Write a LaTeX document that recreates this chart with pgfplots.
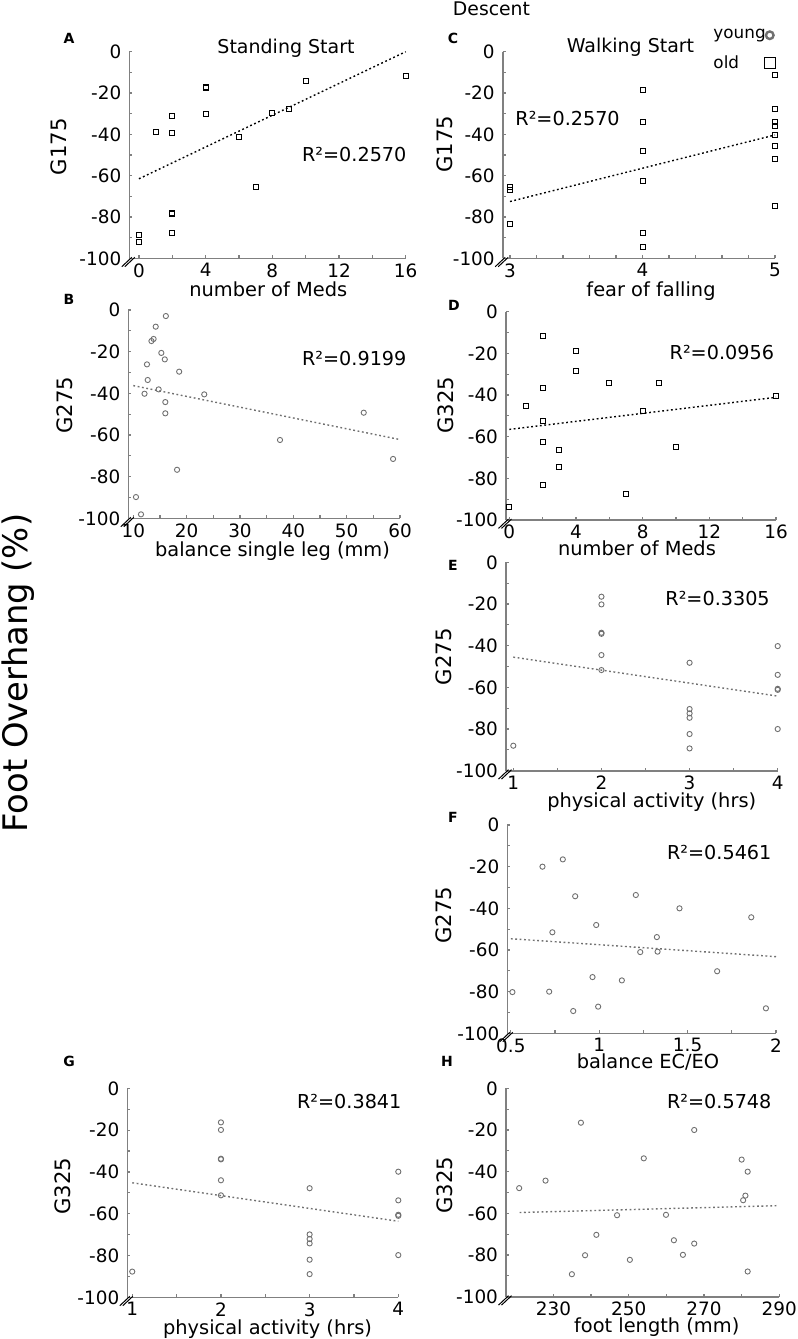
\documentclass[border=0pt]{standalone}
\usepackage{fontspec}
\setmainfont{DejaVu Sans}
\usepackage{pgfplots}
\pgfplotsset{compat=1.18}
\definecolor{mk}{HTML}{707070}
\definecolor{ax}{HTML}{808080}
\pgfplotsset{
  panel/.style={
    scale only axis, axis lines*=left, anchor=south west,
    axis line style={ax, line width=0.8pt},
    every tick/.style={ax, line width=0.6pt},
    tick align=inside, major tick length=1.5pt, minor tick length=1.5pt,
    ymin=-100, ymax=0, ytick={-100,-80,...,0}, minor y tick num=1,
    tick label style={font=\fontsize{9.2}{10}\selectfont, black},
    yticklabel style={xshift=-0.5pt},
    xticklabel style={yshift=1pt},
    /pgf/number format/assume math mode=true,
    clip=false, enlargelimits=false,
  },
  sq/.style={only marks, mark=square, mark size=1.25pt, mark options={line width=0.45pt, draw=black}},
  ci/.style={only marks, mark=o, mark size=1.3pt, mark options={line width=0.45pt, draw=mk}},
  fitk/.style={no markers, black, line width=0.7pt, dash pattern=on 0.9pt off 1.3pt},
  fitg/.style={no markers, mk, line width=0.7pt, dash pattern=on 0.9pt off 1.3pt},
}
\newcommand\brk{%
  \draw[black, line width=0.5pt] ([shift={(-3.75pt,-4.2pt)}]rel axis cs:0,0) -- ++(5pt,4.7pt);
  \draw[black, line width=0.5pt] ([shift={(-2.25pt,-4.2pt)}]rel axis cs:0,0) -- ++(5pt,4.7pt);}
\newcommand\fs[1]{\fontsize{#1}{#1}\selectfont}
\begin{document}
\begin{tikzpicture}
\useasboundingbox (0,0) rectangle (399pt,-669.5pt);

% ---------- A ----------
\begin{axis}[panel, at={(64.65pt,-129.15pt)}, width=138.2pt, height=103.3pt,
  xmin=-0.58, xmax=16, xtick={0,4,...,16}, minor x tick num=1]
\addplot[sq] table {
0 -88.7
0 -91.9
1 -38.7
2 -31.1
2 -39.5
2 -77.9
2 -78.7
2 -87.9
4 -16.9
4 -17.4
4 -30.3
6 -41.1
7 -65.6
8 -29.5
9 -27.7
10 -14.0
16 -11.8
};
\addplot[fitk] coordinates {(0,-61.5) (16,0)};
\brk
\end{axis}

% ---------- B ----------
\begin{axis}[panel, at={(64.15pt,-259.15pt)}, width=135.85pt, height=104.15pt,
  xmin=9.06, xmax=60, xtick={10,20,...,60}, minor x tick num=1]
\addplot[ci] table {
10.5 -89.8
11.44 -98.1
12.1 -40.2
12.56 -26.1
12.7 -33.6
13.4 -14.9
13.8 -13.9
14.2 -8.0
14.75 -38.1
15.25 -20.6
15.9 -23.7
16.1 -2.9
16.0 -44.2
16.0 -49.6
18.6 -29.6
18.2 -76.7
23.3 -40.5
37.5 -62.4
53.2 -49.3
58.7 -71.5
};
\addplot[fitg] coordinates {(10,-36.3) (60,-62.2)};
\brk
\end{axis}

% ---------- C ----------
\begin{axis}[panel, at={(251.35pt,-129.15pt)}, width=136.15pt, height=103.3pt,
  xmin=2.945, xmax=5, xtick={3,4,5}, minor x tick num=4,
  legend plot pos=right,
  legend image code/.code={\draw[#1] plot coordinates {(0pt,0pt)};},
  legend style={draw=none, fill=none, at={(0.7726,1.131)}, anchor=north west,
    font=\fs{8.4}, inner sep=0pt, row sep=2.9pt, column sep=-0.7pt,
    nodes={inner xsep=0pt}, cells={anchor=west}}]
\addlegendimage{only marks, mark=o, mark size=1.9pt, mark options={line width=1.2pt, draw=mk}}
\addlegendentry{young}
\addlegendimage{only marks, mark=square, mark size=2.75pt, mark options={line width=0.5pt, draw=black}}
\addlegendentry{old}
\addplot[sq, forget plot] table {
3 -65.3
3 -66.9
3 -83.5
4 -18.5
4 -34.0
4 -47.9
4 -62.7
4 -87.9
4 -94.3
5 -11.1
5 -27.9
5 -33.9
5 -35.9
5 -40.3
5 -45.5
5 -52.1
5 -74.6
};
\addplot[fitk, forget plot] coordinates {(3,-72.5) (5,-40.3)};
\brk
\end{axis}

% ---------- D ----------
\begin{axis}[panel, at={(253pt,-260pt)}, width=135pt, height=104.15pt,
  xmin=-0.2, xmax=16, xtick={0,4,...,16}, minor x tick num=1]
\addplot[sq] table {
0 -93.9
1 -45.4
2 -11.5
2 -36.6
2 -52.3
2 -62.7
2 -83.4
3 -66.6
3 -74.6
4 -19.0
4 -28.3
6 -34.2
7 -87.7
8 -47.8
9 -34.2
10 -65.1
16 -40.5
};
\addplot[fitk] coordinates {(0,-56.5) (16,-41.1)};
\brk
\end{axis}

% ---------- E ----------
\begin{axis}[panel, at={(253pt,-385.35pt)}, width=135.85pt, height=104.2pt,
  xmin=0.917, xmax=4, xtick={1,2,3,4}, minor x tick num=1]
\addplot[ci] table {
1 -88.0
2 -16.5
2 -20.2
2 -33.8
2 -34.3
2 -44.5
2 -51.7
3 -48.2
3 -70.4
3 -72.5
3 -74.6
3 -82.4
3 -89.3
4 -40.2
4 -54.0
4 -60.7
4 -61.2
4 -80.0
};
\addplot[fitg] coordinates {(1,-45.5) (4,-64.2)};
\brk
\end{axis}

% ---------- F ----------
\begin{axis}[panel, at={(253.65pt,-516.65pt)}, width=134.35pt, height=104.15pt,
  xmin=0.48, xmax=2, xtick={0.5,1,1.5,2}, minor x tick num=1]
\addplot[ci] table {
0.509 -80.2
0.679 -20.0
0.735 -51.5
0.717 -80.0
0.794 -16.5
0.853 -89.3
0.864 -34.2
0.962 -73.0
0.983 -48.0
0.994 -87.2
1.128 -74.6
1.207 -33.6
1.232 -61.0
1.326 -53.8
1.330 -60.8
1.454 -40.0
1.667 -70.2
1.860 -44.3
1.943 -88.0
};
\addplot[fitg] coordinates {(0.5,-54.6) (2,-63.2)};
\brk
\end{axis}

% ---------- G ----------
\begin{axis}[panel, at={(63.65pt,-648.65pt)}, width=135.5pt, height=104.5pt,
  xmin=0.944, xmax=4, xtick={1,2,3,4}, minor x tick num=1]
\addplot[ci] table {
1 -87.7
2 -16.3
2 -19.9
2 -33.7
2 -34.0
2 -44.0
2 -51.2
3 -47.8
3 -69.9
3 -72.1
3 -74.2
3 -82.0
3 -88.9
4 -39.9
4 -53.6
4 -60.5
4 -61.0
4 -79.8
};
\addplot[fitg] coordinates {(1,-45.2) (4,-63.6)};
\brk
\end{axis}

% ---------- H ----------
\begin{axis}[panel, at={(253pt,-648.35pt)}, width=136.65pt, height=104.2pt,
  xmin=217.4, xmax=290, xtick={230,250,270,290}, minor x tick num=1]
\addplot[ci] table {
220.9 -47.9
227.9 -44.3
234.9 -89.2
237.3 -16.5
238.4 -80.1
241.4 -70.3
246.9 -60.9
250.3 -82.3
254.0 -33.6
259.9 -60.7
262.0 -72.9
264.4 -79.9
267.4 -20.0
267.4 -74.5
280.0 -34.2
280.4 -53.7
281.0 -51.5
281.6 -40.0
281.6 -87.9
};
\addplot[fitg] coordinates {(221,-59.6) (289.7,-56.3)};
\brk
\end{axis}

% ---------- texts ----------
\node[font=\fs{9.4}, inner sep=0] at (245.75pt,-4.5pt) {Descent};
\node[font=\fs{16.9}, rotate=90, inner sep=0] at (9pt,-336.5pt) {Foot Overhang (\%)};
\foreach \l/\x/\y in {A/34.5/-19, B/34.5/-149.5, C/226.5/-19, D/227/-152.5, E/226.5/-282.5, F/226.5/-408.5, G/34.5/-530.5, H/223.5/-530.5}
  \node[font=\fs{7}\bfseries, inner sep=0] at (\x pt,\y pt) {\l};
\node[font=\fs{9.5}, inner sep=0] at (143pt,-24.25pt) {Standing Start};
\node[font=\fs{9.5}, inner sep=0] at (315.25pt,-23.5pt) {Walking Start};
% R^2
\foreach \t/\x/\y in {0.2570/150.85/-77.15, 0.9199/150.85/-179.5, 0.2570/257.5/-59.5, 0.0956/334.65/-176.15, 0.3305/332.5/-299.15, 0.5461/333.35/-426.15, 0.3841/148.35/-550.85, 0.5748/333.35/-550.85}
  \node[font=\fs{9.6}, anchor=west, inner sep=0] at (\x pt,\y pt) {R²=\t};
% x labels
\foreach \t/\x/\y in {{number of Meds}/134.15/-148, {balance single leg (mm)}/136.25/-278.35, {fear of falling}/325.5/-148, {number of Meds}/318.5/-277.5, {physical activity (hrs)}/325.85/-403.5, {balance EC/EO}/324/-534, {physical activity (hrs)}/133.75/-667, {foot length (mm)}/328.35/-666.35}
  \node[font=\fs{9.7}, anchor=base, inner sep=0] at (\x pt,\y pt) {\t};
% y labels
\foreach \t/\x/\y in {G175/29.5/-73.35, G275/32.5/-202.5, G175/222.5/-72, G325/223/-202.5, G275/222/-328.35, G275/222/-457.5, G325/31.5/-593, G325/222.5/-592.5}
  \node[font=\fs{10.6}, rotate=90, inner sep=0] at (\x pt,\y pt) {\t};
\end{tikzpicture}
\end{document}
